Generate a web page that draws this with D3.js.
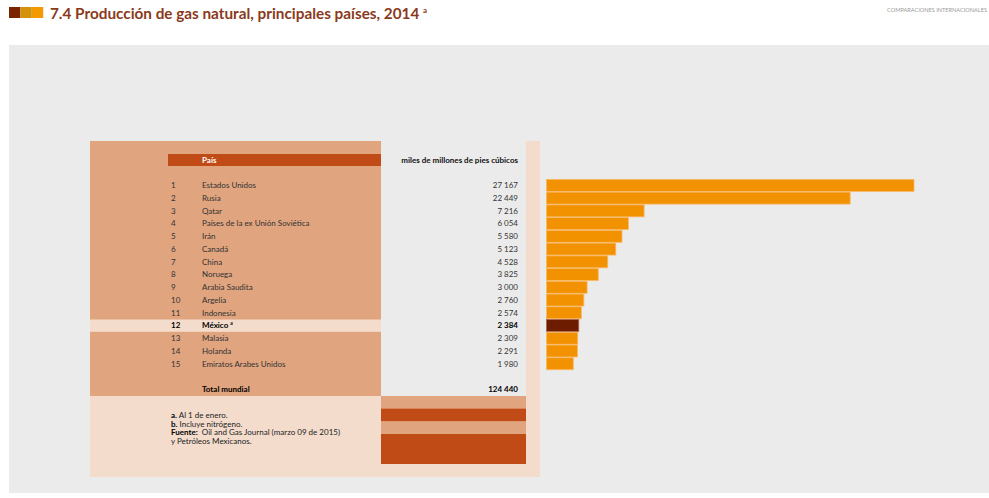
<!DOCTYPE html>
<html>
<head>
<meta charset="utf-8">
<script src="https://cdn.jsdelivr.net/npm/d3@7"></script>
<style>
  html, body { margin: 0; padding: 0; background: #ffffff; }
  svg { display: block; }
  text { font-family: Lato, "Open Sans", sans-serif; }
</style>
</head>
<body>
<svg id="chart" width="989" height="498"></svg>
<script>
// Natural gas production, top 15 countries, 2014 (billions of cubic feet)
const ranks = [1, 2, 3, 4, 5, 6, 7, 8, 9, 10, 11, 12, 13, 14, 15];
const countries = [
  "Estados Unidos", "Rusia", "Qatar", "Países de la ex Unión Soviética", "Irán",
  "Canadá", "China", "Noruega", "Arabia Saudita", "Argelia", "Indonesia",
  "México", "Malasia", "Holanda", "Emiratos Arabes Unidos"
];
const values = [27167, 22449, 7216, 6054, 5580, 5123, 4528, 3825, 3000, 2760, 2574, 2384, 2309, 2291, 1980];
const highlight = ["México"];
const totalLabel = "Total mundial";
const totalValue = 124440;
const unitLabel = "miles de millones de pies cúbicos";
const headerLabel = "País";
const notes = [
  { key: "a.", text: " Al 1 de enero." },
  { key: "b.", text: " Incluye nitrógeno." },
  { key: "Fuente:", text: "  Oil and Gas Journal (marzo 09 de 2015)" },
  { key: "", text: "y Petróleos Mexicanos." }
];

const C = {
  bg: "#ebebeb",
  salmon: "#e0a47f",
  pink: "#f4dccd",
  rust: "#c14b17",
  bar: "#f39200",
  barStroke: "#f8b865",
  mx: "#6e1c00",
  mxStroke: "#a8624a",
  text: "#333333",
  title: "#8a3a1c"
};
const FS = 8;

const svg = d3.select("#chart");
const fmt = d3.formatLocale({ decimal: ".", thousands: " ", grouping: [3], currency: ["", ""] }).format(",d");

// Header strip
const icon = ["#7b2400", "#d4920c", "#f39a00"];
svg.selectAll("rect.icon").data(icon).join("rect")
  .attr("x", (d, i) => 9 + i * 11.4).attr("y", 7).attr("width", 11.4).attr("height", 11)
  .attr("fill", d => d);
svg.append("text").attr("x", 50).attr("y", 19)
  .attr("font-size", 15.3).attr("font-weight", 700).attr("fill", C.title)
  .text("7.4 Producción de gas natural, principales países, 2014 ")
  .append("tspan").attr("font-size", 8).attr("dy", -6).text("a");
svg.append("text").attr("x", 987).attr("y", 12).attr("text-anchor", "end")
  .attr("font-family", "'Liberation Sans Narrow', 'DejaVu Sans Condensed', sans-serif")
  .attr("font-size", 5.6).attr("fill", "#9a9a9a")
  .text("COMPARACIONES INTERNACIONALES");

// Panels
svg.append("rect").attr("x", 9).attr("y", 45).attr("width", 980).attr("height", 448).attr("fill", C.bg);
svg.append("rect").attr("x", 90).attr("y", 141).attr("width", 291).attr("height", 255).attr("fill", C.salmon);
svg.append("rect").attr("x", 526).attr("y", 141).attr("width", 14).attr("height", 255).attr("fill", C.pink);
svg.append("rect").attr("x", 90).attr("y", 396).attr("width", 450).attr("height", 81).attr("fill", C.pink);
svg.append("rect").attr("x", 168).attr("y", 154).attr("width", 213).attr("height", 12).attr("fill", C.rust);
[[396, 12.5, C.salmon], [408.5, 13, C.rust], [421.5, 12.5, C.salmon], [434, 30, C.rust]].forEach(([y, h, f]) => {
  svg.append("rect").attr("x", 381).attr("y", y).attr("width", 145).attr("height", h).attr("fill", f);
});

svg.append("text").attr("x", 202).attr("y", 162.8).attr("font-size", FS).attr("font-weight", 700)
  .attr("fill", "#fff").text(headerLabel);
svg.append("text").attr("x", 518).attr("y", 162.8).attr("font-size", FS).attr("font-weight", 700)
  .attr("fill", "#111").attr("text-anchor", "end").text(unitLabel);

// Scales
const y = d3.scaleBand().domain(countries).range([179, 370.1]).paddingInner(0.06).paddingOuter(0.03);
const x = d3.scaleLinear().domain([0, d3.max(values)]).range([546.5, 914]);

const rows = countries.map((c, i) => ({ c, rank: ranks[i], v: values[i], hi: highlight.includes(c) }));

// Highlight row band
svg.selectAll("rect.hirow").data(rows.filter(d => d.hi)).join("rect")
  .attr("x", 90).attr("width", 291)
  .attr("y", d => y(d.c) + y.bandwidth() / 2 - 6).attr("height", 12.3)
  .attr("fill", C.pink);

// Table rows
const g = svg.append("g");
const ty = d => y(d.c) + y.bandwidth() / 2 + 2.8;
g.selectAll("text.rank").data(rows).join("text")
  .attr("x", 171).attr("y", ty).attr("font-size", FS)
  .attr("font-weight", d => d.hi ? 700 : 400).attr("fill", d => d.hi ? "#000" : C.text)
  .text(d => d.rank);
g.selectAll("text.name").data(rows).join("text")
  .attr("x", 202).attr("y", ty).attr("font-size", FS)
  .attr("font-weight", d => d.hi ? 700 : 400).attr("fill", d => d.hi ? "#000" : C.text)
  .each(function (d) {
    const t = d3.select(this).text(d.c);
    if (d.hi) t.append("tspan").attr("font-size", 5).attr("dx", 2).attr("dy", -3).text("a");
  });
g.selectAll("text.val").data(rows).join("text")
  .attr("x", 518).attr("y", ty).attr("font-size", FS).attr("text-anchor", "end")
  .attr("font-weight", d => d.hi ? 700 : 400).attr("fill", d => d.hi ? "#000" : C.text)
  .text(d => fmt(d.v));

svg.append("text").attr("x", 202).attr("y", 392.2).attr("font-size", FS).attr("font-weight", 700)
  .attr("fill", "#000").text(totalLabel);
svg.append("text").attr("x", 518).attr("y", 392.2).attr("font-size", FS).attr("font-weight", 700)
  .attr("fill", "#000").attr("text-anchor", "end").text(fmt(totalValue));

// Bars
svg.selectAll("rect.bar").data(rows).join("rect")
  .attr("x", x(0)).attr("y", d => y(d.c)).attr("height", y.bandwidth())
  .attr("width", d => x(d.v) - x(0))
  .attr("fill", d => d.hi ? C.mx : C.bar)
  .attr("stroke", d => d.hi ? C.mxStroke : C.barStroke).attr("stroke-width", 0.8);

// Notes
const n = svg.append("g");
notes.forEach((d, i) => {
  const t = n.append("text").attr("x", 171).attr("y", 417.8 + i * 8.7).attr("font-size", FS).attr("fill", "#222");
  if (d.key) t.append("tspan").attr("font-weight", 700).attr("fill", "#000").text(d.key);
  t.append("tspan").attr("xml:space", "preserve").text(d.text);
});
</script>
</body>
</html>
